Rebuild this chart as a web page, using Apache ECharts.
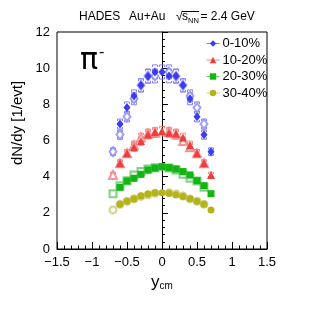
<!DOCTYPE html>
<html><head><meta charset="utf-8">
<script src="https://cdn.jsdelivr.net/npm/echarts@6/dist/echarts.min.js"></script>
<style>html,body{margin:0;padding:0;background:#fff}#c{width:315px;height:312px}</style>
</head><body><div id="c"></div>
<script>
// rapidity bin centres (measured points)
const yc = [-0.6,-0.5,-0.4,-0.3,-0.2,-0.1,0,0.1,0.2,0.3,0.4,0.5,0.6,0.7];
// dN/dy of pi- per centrality class
const cent0_10  = [6.91,7.82,8.46,9.05,9.55,9.79,9.79,9.57,9.57,9.05,8.31,7.32,6.32,5.38];
const cent10_20 = [4.74,5.29,5.63,5.97,6.33,6.47,6.52,6.43,6.38,6.16,5.74,5.29,4.74,4.09];
const cent20_30 = [3.41,3.76,3.91,4.13,4.37,4.48,4.55,4.50,4.42,4.28,4.09,3.78,3.50,3.06];
const cent30_40 = [2.47,2.64,2.77,2.93,3.04,3.11,3.11,3.08,3.00,2.91,2.78,2.64,2.47,2.16];
const sysFrac = 0.04; // relative systematic uncertainty (brackets)
const names = ['0-10%','10-20%','20-30%','30-40%'];
const xTicks = [-1.5,-1,-0.5,0,0.5,1,1.5];
const yTicks = [0,2,4,6,8,10,12];

const FONT = 'Liberation Sans';
const sets = [
  {name:names[0], v:cent0_10,  sym:'diamond',  size:[7,9], c:'#3b3bf5', lc:'#8080f8', oc:'#8a8af8'},
  {name:names[1], v:cent10_20, sym:'triangle', size:8,     c:'#f03c3c', lc:'#f48888', oc:'#f08080'},
  {name:names[2], v:cent20_30, sym:'rect',     size:7,     c:'#12b612', lc:'#70d070', oc:'#66c866'},
  {name:names[3], v:cent30_40, sym:'circle',   size:7,     c:'#b4b41a', lc:'#d0d070', oc:'#c8c870'}
];

function bracketSeries(data, color){
  return {
    type:'custom', silent:true, z:2, data:data,
    renderItem:function(params, api){
      const x=api.value(0), y=api.value(1), e=api.value(2);
      const p=api.coord([x,y+e]), q=api.coord([x,y-e]);
      const w=2.5, h=2;
      return {type:'group', children:[
        {type:'polyline', shape:{points:[[p[0]-w,p[1]+h],[p[0]-w,p[1]],[p[0]+w,p[1]],[p[0]+w,p[1]+h]]}, style:{stroke:color, fill:null, lineWidth:1}},
        {type:'polyline', shape:{points:[[q[0]-w,q[1]-h],[q[0]-w,q[1]],[q[0]+w,q[1]],[q[0]+w,q[1]-h]]}, style:{stroke:color, fill:null, lineWidth:1}}
      ]};
    }
  };
}

const series = [];
sets.forEach(s=>{
  const filled = yc.map((x,i)=>[x, s.v[i]]);
  // reflected points (mirror around y_cm = 0)
  const refl = yc.map((x,i)=>[-x, s.v[i]]).filter(d=>d[0]!==0);
  series.push(bracketSeries(filled.map(d=>[d[0],d[1],d[1]*sysFrac]), s.lc));
  series.push(bracketSeries(refl.map(d=>[d[0],d[1],d[1]*sysFrac]), s.lc));
  series.push({type:'scatter', name:s.name+'_r', data:refl, symbol:'empty'+s.sym.charAt(0).toUpperCase()+s.sym.slice(1),
    symbolSize:s.size, itemStyle:{color:s.oc, borderColor:s.oc, borderWidth:1}, z:3, silent:true});
  series.push({type:'line', name:s.name, data:filled, symbol:s.sym, symbolSize:s.size, showSymbol:true,
    itemStyle:{color:s.c}, lineStyle:{opacity:0, color:s.lc, width:1}, z:5, silent:true, animation:false});
});

const fmt = v => v<0 ? '\u2212'+Math.abs(v) : String(v);
const T = {fontFamily:FONT, fontSize:12, fill:'#000'};

const chart = echarts.init(document.getElementById('c'), null, {renderer:'canvas'});
chart.setOption({
  animation:false,
  grid:{left:57, right:48, top:32, bottom:63, show:true, borderColor:'#000', borderWidth:1, backgroundColor:'transparent'},
  xAxis:{type:'value', min:xTicks[0], max:xTicks[xTicks.length-1], interval:0.5,
    axisLine:{show:true, onZero:false, lineStyle:{color:'#000', width:1}},
    axisTick:{show:true, inside:true, length:7, lineStyle:{color:'#000'}},
    minorTick:{show:true, splitNumber:5, length:3.5, lineStyle:{color:'#000'}},
    splitLine:{show:false},
    axisLabel:{formatter:fmt, color:'#000', fontFamily:FONT, fontSize:13, margin:7},
    name:'{y|y}{s|cm}', nameLocation:'middle', nameGap:21,
    nameTextStyle:{rich:{y:{fontFamily:FONT, fontSize:17, color:'#000', verticalAlign:'bottom'},
                         s:{fontFamily:FONT, fontSize:10, color:'#000', padding:[9,0,0,0], verticalAlign:'bottom'}}}
  },
  yAxis:{type:'value', min:yTicks[0], max:yTicks[yTicks.length-1], interval:2,
    axisLine:{show:true, lineStyle:{color:'#000', width:1}},
    axisTick:{show:true, inside:true, length:6, lineStyle:{color:'#000'}},
    minorTick:{show:true, splitNumber:5, length:3, lineStyle:{color:'#000'}},
    splitLine:{show:false},
    axisLabel:{color:'#000', fontFamily:FONT, fontSize:13, margin:7}
  },
  legend:{orient:'vertical', left:201, top:32, itemWidth:13, itemHeight:8, itemGap:3.5,
    data:names, selectedMode:false,
    textStyle:{fontFamily:FONT, fontSize:13, color:'#000', padding:[0,0,0,-2]},
    lineStyle:{opacity:1, width:1}
  },
  graphic:[
    {type:'text', x:18, y:123, rotation:Math.PI/2, style:{text:'dN/dy [1/evt]', fontFamily:FONT, fontSize:15, fill:'#000', align:'center', verticalAlign:'middle'}},
    {type:'text', x:79, y:17, style:Object.assign({text:'HADES', verticalAlign:'middle'}, T)},
    {type:'text', x:129, y:17, style:Object.assign({text:'Au+Au', verticalAlign:'middle'}, T)},
    {type:'text', x:176, y:17, style:Object.assign({text:'\u221A', verticalAlign:'middle'}, T)},
    {type:'text', x:182, y:17, style:Object.assign({text:'s', verticalAlign:'middle'}, T)},
    {type:'text', x:188, y:21, style:{text:'NN', fontFamily:FONT, fontSize:7.5, fill:'#000', verticalAlign:'middle'}},
    {type:'text', x:200.5, y:17, style:Object.assign({text:'= 2.4 GeV', verticalAlign:'middle'}, T)},
    {type:'line', shape:{x1:182, y1:11.5, x2:199, y2:11.5}, style:{stroke:'#000', lineWidth:1}},
    {type:'text', left:80, top:45, style:{
      text:'{p|\u03C0}{m|-}',
      rich:{p:{fontFamily:'DejaVu Sans', fontSize:30, fill:'#000'},
            m:{fontFamily:FONT, fontSize:16, fill:'#000', padding:[0,0,16,1]}}}}
  ],
  series:series
});
</script></body></html>
